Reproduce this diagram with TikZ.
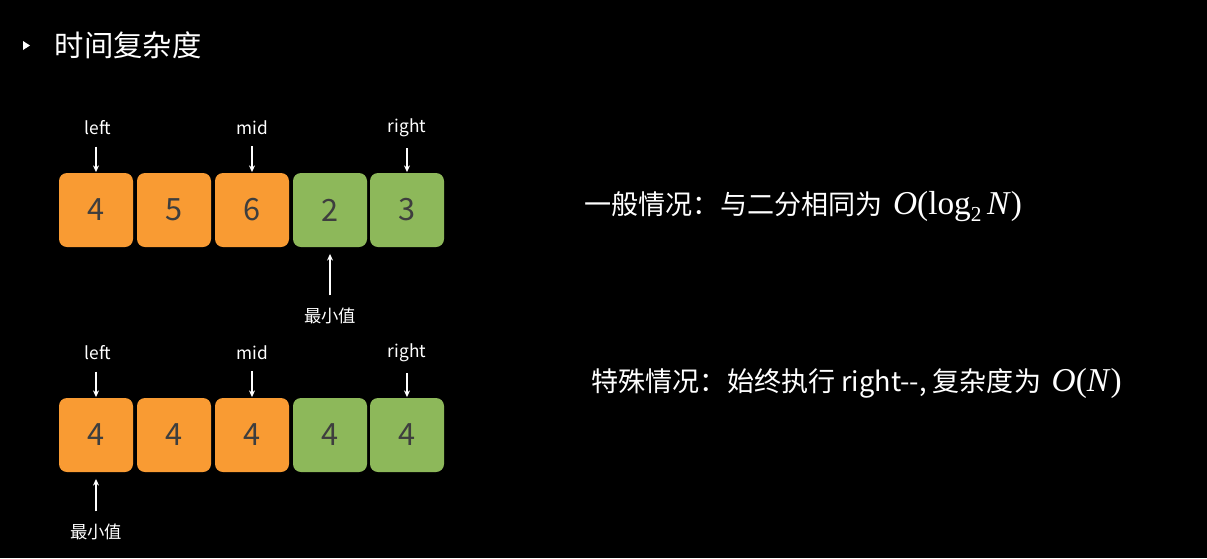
\documentclass[tikz,border=0pt]{standalone}
\usepackage{fontspec}
\newfontfamily\cjk{Noto Sans CJK SC}
\newfontfamily\tnr{Liberation Serif}
\usetikzlibrary{arrows.meta,positioning}
\definecolor{boxorange}{HTML}{F99B33}
\definecolor{boxgreen}{HTML}{8DB85A}
\definecolor{numgray}{HTML}{3E3E3E}
\newcommand{\cplx}[1]{\hspace{8pt}{\tnr\fontsize{25}{25}\selectfont #1}}
\newcommand{\lowtwo}{\raisebox{-5pt}{\fontsize{16}{16}\selectfont 2}}
\tikzset{
  cell/.style={rounded corners=6pt, minimum width=55.5pt, minimum height=55.5pt, inner sep=0pt,
    text=numgray, font=\cjk\fontsize{23}{23}\selectfont},
  ptrlabel/.style={text=white, font=\cjk\fontsize{13}{14}\selectfont},
  ptrarrow/.style={white, line width=0.8pt, -{Stealth[length=5pt,width=4.5pt]}},
  note/.style={text=white, anchor=west, font=\cjk\fontsize{20.3}{22}\selectfont},
}
\begin{document}
\begin{tikzpicture}[x=0.75pt,y=-0.75pt]
  \fill[black] (0,0) rectangle (1207,558);
  \useasboundingbox (0,0) rectangle (1207,558);
  % title
  \fill[white] (23,41) -- (30,45.5) -- (23,50) -- cycle;
  \node[text=white, anchor=west, font=\cjk\fontsize{22}{24}\selectfont] (title) at (50,45) {时间复杂度};

  % general case
  \node[cell, fill=boxorange] (a1) at (96,210) {4};
  \node[cell, fill=boxorange] (a2) at (174,210) {5};
  \node[cell, fill=boxorange] (a3) at (252,210) {6};
  \node[cell, fill=boxgreen] (a4) at (330,210) {2};
  \node[cell, fill=boxgreen] (a5) at (407,210) {3};
  \node[ptrlabel] (left1) at (98,128) {left};
  \node[ptrlabel] (mid1) at (252,128) {mid};
  \node[ptrlabel] (right1) at (407,128) {right};
  \node[ptrlabel] (min1) at (330,316) {最小值};
  \draw[ptrarrow, shorten <=5pt, shorten >=0.5pt] (left1.south -| a1.north) -- (a1.north);
  \draw[ptrarrow, shorten <=5pt, shorten >=0.5pt] (mid1.south -| a3.north) -- (a3.north);
  \draw[ptrarrow, shorten <=5pt, shorten >=0.5pt] (right1.south -| a5.north) -- (a5.north);
  \draw[ptrarrow, shorten <=6pt, shorten >=5pt] (min1.north) -- (min1.north |- a4.south);

  % special case
  \node[cell, fill=boxorange] (b1) at (96,435) {4};
  \node[cell, fill=boxorange] (b2) at (174,435) {4};
  \node[cell, fill=boxorange] (b3) at (252,435) {4};
  \node[cell, fill=boxgreen] (b4) at (330,435) {4};
  \node[cell, fill=boxgreen] (b5) at (407,435) {4};
  \node[ptrlabel] (left2) at (98,353) {left};
  \node[ptrlabel] (mid2) at (252,353) {mid};
  \node[ptrlabel] (right2) at (407,353) {right};
  \node[ptrlabel] (min2) at (96,532) {最小值};
  \draw[ptrarrow, shorten <=5pt, shorten >=0.5pt] (left2.south -| b1.north) -- (b1.north);
  \draw[ptrarrow, shorten <=5pt, shorten >=0.5pt] (mid2.south -| b3.north) -- (b3.north);
  \draw[ptrarrow, shorten <=5pt, shorten >=0.5pt] (right2.south -| b5.north) -- (b5.north);
  \draw[ptrarrow, shorten <=6pt, shorten >=5pt] (min2.north) -- (min2.north |- b1.south);

  % notes
  \node[note] (general) at (580,207) {一般情况：与二分相同为\cplx{\textit{O}(log\lowtwo\,\textit{N})}};
  \node[note] (special) at (587,383) {特殊情况：始终执行 right--, 复杂度为\cplx{\textit{O}(\textit{N})}};
\end{tikzpicture}
\end{document}
